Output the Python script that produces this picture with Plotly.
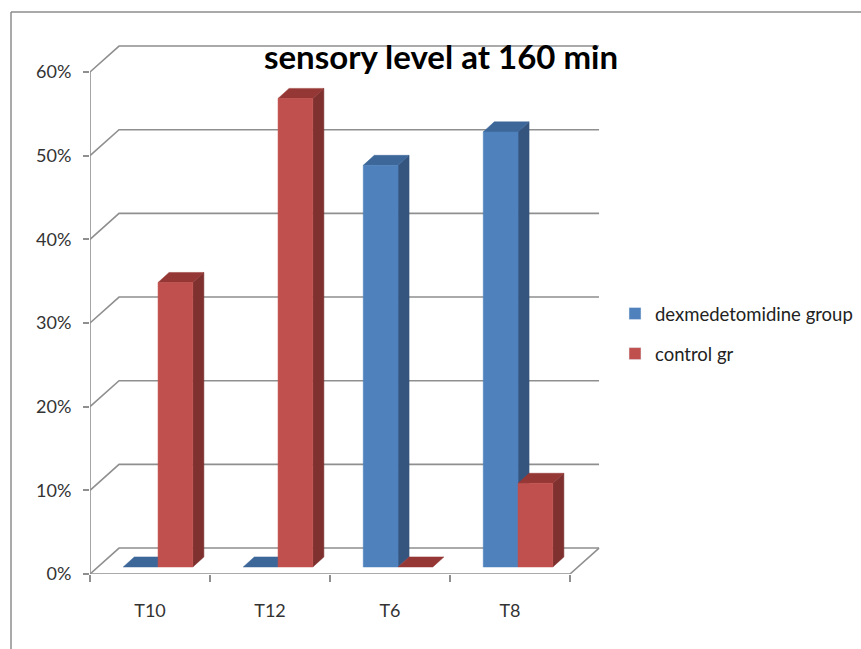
import plotly.graph_objects as go

# ---- data ----
categories = ["T10", "T12", "T6", "T8"]
dex_group = [0, 0, 48, 52]        # % dexmedetomidine group
control_gr = [34, 56, 0, 10]      # % control gr
y_ticks = [0, 10, 20, 30, 40, 50, 60]
series_names = ["dexmedetomidine group", "control gr"]

# ---- style / geometry (data units) ----
FRONT = {"dex": "#4F81BD", "ctl": "#C0504D"}
SIDE = {"dex": "#35557F", "ctl": "#7E312F"}
TOP = {"dex": "#3D6699", "ctl": "#953735"}
GRID = "#8F8F8F"
FONT = "Lato"

wall_dx, wall_dy = 0.242, 3.1     # depth of the back wall
bar_dx0, bar_dy0 = 0.067, 0.84    # bars sit a little inside the box
bar_w = 0.29
side_dx, side_dy = 0.092, 1.2     # depth of each bar

n = len(categories)
xmin, xmax = -0.5, n - 0.5

fig = go.Figure()

def line(xs, ys):
    fig.add_trace(go.Scatter(x=xs, y=ys, mode="lines", line=dict(color=GRID, width=1.6),
                             hoverinfo="skip", showlegend=False, cliponaxis=False))

# back wall grid + left wall diagonals
for v in y_ticks:
    line([xmin, xmin + wall_dx, xmax + wall_dx], [v, v + wall_dy, v + wall_dy])
# front value axis
line([xmin, xmin], [0, y_ticks[-1]])
# floor front edge and right diagonal
line([xmin, xmax, xmax + wall_dx], [0, 0, wall_dy])

def poly(xs, ys, color):
    fig.add_trace(go.Scatter(x=xs + [xs[0]], y=ys + [ys[0]], mode="lines", fill="toself",
                             fillcolor=color, line=dict(color=color, width=0.5),
                             hoverinfo="skip", showlegend=False, cliponaxis=False))

for i in range(n):
    for key, vals, k in (("dex", dex_group, 0), ("ctl", control_gr, 1)):
        v = vals[i]
        xl = i + bar_dx0 - bar_w + k * bar_w
        xr = xl + bar_w
        b = bar_dy0
        t = b + v
        if v > 0:
            poly([xr, xr, xr + side_dx, xr + side_dx], [b, t, t + side_dy, b + side_dy], SIDE[key])
        poly([xl, xr, xr + side_dx, xl + side_dx], [t, t, t + side_dy, t + side_dy], TOP[key])
        if v > 0:
            poly([xl, xr, xr, xl], [b, b, t, t], FRONT[key])

# legend entries
for name, key, g in ((series_names[0], "dex", "a"), (series_names[1], "ctl", "b")):
    fig.add_trace(go.Bar(x=[None], y=[None], name=name, marker_color=FRONT[key], legendgroup=g))

# invisible trace for tick axis
fig.add_trace(go.Scatter(x=[None], y=[None], xaxis="x2", showlegend=False, hoverinfo="skip"))

ymax = (574 - 40) / 8.367

fig.update_layout(
    width=861, height=649,
    margin=dict(l=90, r=861 - 630, t=40, b=649 - 574, autoexpand=False),
    paper_bgcolor="white", plot_bgcolor="rgba(0,0,0,0)",
    font=dict(family=FONT, color="#333333", size=18),
    title=dict(text="<b>sensory level at 160 min</b>", x=441 / 861, xref="container",
               xanchor="center", y=1 - 57 / 649, yanchor="middle",
               font=dict(family=FONT, size=33, color="#000000")),
    xaxis=dict(range=[xmin, xmax + 0.5], tickmode="array", tickvals=list(range(n)),
               ticktext=categories, ticks="", showgrid=False, zeroline=False,
               showline=False, ticklabelstandoff=24, tickfont=dict(size=18, color="#333333")),
    xaxis2=dict(range=[xmin, xmax + 0.5], overlaying="x", anchor="y", side="bottom",
                tickmode="array", tickvals=[xmin + j for j in range(n + 1)],
                showticklabels=False, ticks="outside", ticklen=7, tickwidth=1.6,
                tickcolor=GRID, showgrid=False, zeroline=False, showline=False),
    yaxis=dict(range=[0, ymax], tickmode="array", tickvals=y_ticks,
               ticktext=[f"{v}%" for v in y_ticks], ticks="outside", ticklen=6,
               tickwidth=1.6, tickcolor=GRID, showgrid=False, zeroline=False,
               showline=False, ticklabelstandoff=8, tickfont=dict(size=18, color="#333333")),
    legend=dict(x=(615 - 90) / 540, xanchor="left", y=(574 - 295) / 534, yanchor="top",
                font=dict(family=FONT, size=18.5, color="#222222"), tracegroupgap=13,
                traceorder="grouped", bgcolor="rgba(0,0,0,0)"),
    showlegend=True,
    shapes=[
        dict(type="line", xref="paper", yref="paper", x0=(11 - 90) / 540, x1=(11 - 90) / 540,
             y0=(574 - 12) / 534, y1=(574 - 660) / 534, line=dict(color="#8C8C8C", width=1.5)),
        dict(type="line", xref="paper", yref="paper", x0=(11 - 90) / 540, x1=(870 - 90) / 540,
             y0=(574 - 12) / 534, y1=(574 - 12) / 534, line=dict(color="#8C8C8C", width=1.5)),
    ],
)

fig.write_html("out.html")
